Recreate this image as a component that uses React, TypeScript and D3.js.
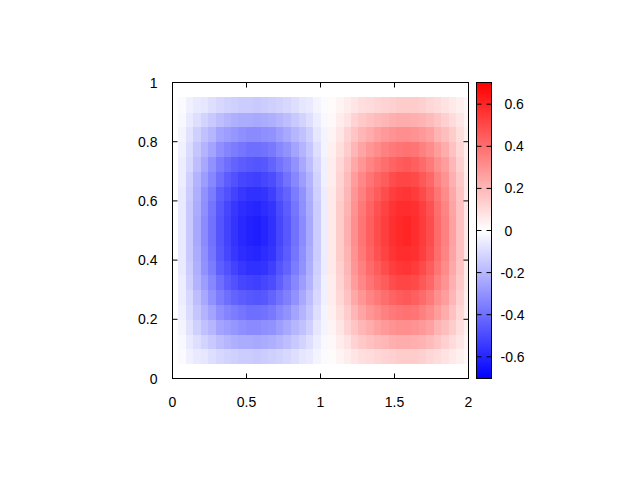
import React from "react";
import * as d3 from "d3";

// Grid coordinates of the heatmap cells (cell centres)
const xCenters = [
  0.065, 0.116, 0.167, 0.217, 0.268, 0.319, 0.37, 0.42, 0.471, 0.522,
  0.572, 0.623, 0.674, 0.724, 0.775, 0.826, 0.877, 0.927, 0.978, 1.029,
  1.079, 1.13, 1.181, 1.231, 1.282, 1.333, 1.384, 1.434, 1.485, 1.536,
  1.586, 1.637, 1.688, 1.738, 1.789, 1.84, 1.891, 1.941, 1.992,
];
const yCenters = [
  0.075, 0.125, 0.175, 0.225, 0.275, 0.325, 0.375, 0.425, 0.475,
  0.525, 0.575, 0.625, 0.675, 0.725, 0.775, 0.825, 0.875, 0.925,
];

// Cell values, one named row per y level (outer rows first)
const zRowA = [-0.01, -0.04, -0.06, -0.07, -0.09, -0.11, -0.12, -0.13, -0.14, -0.14, -0.15, -0.14, -0.13, -0.12, -0.11, -0.09, -0.07, -0.06, -0.03, -0.01, 0.01, 0.03, 0.05, 0.07, 0.09, 0.1, 0.11, 0.12, 0.13, 0.14, 0.14, 0.14, 0.13, 0.11, 0.1, 0.08, 0.06, 0.04, 0.02];
const zRowB = [-0.02, -0.06, -0.09, -0.12, -0.15, -0.18, -0.2, -0.22, -0.23, -0.23, -0.24, -0.23, -0.22, -0.2, -0.18, -0.15, -0.12, -0.09, -0.05, -0.02, 0.02, 0.05, 0.08, 0.12, 0.15, 0.17, 0.19, 0.2, 0.22, 0.23, 0.23, 0.22, 0.21, 0.19, 0.16, 0.13, 0.1, 0.07, 0.03];
const zRowC = [-0.03, -0.08, -0.13, -0.17, -0.2, -0.25, -0.27, -0.29, -0.31, -0.32, -0.32, -0.31, -0.3, -0.27, -0.24, -0.2, -0.17, -0.13, -0.07, -0.03, 0.03, 0.07, 0.12, 0.16, 0.2, 0.23, 0.26, 0.28, 0.3, 0.31, 0.31, 0.3, 0.28, 0.26, 0.21, 0.18, 0.14, 0.09, 0.04];
const zRowD = [-0.04, -0.1, -0.16, -0.21, -0.25, -0.31, -0.34, -0.36, -0.38, -0.4, -0.4, -0.39, -0.37, -0.33, -0.3, -0.25, -0.21, -0.16, -0.09, -0.03, 0.04, 0.09, 0.14, 0.2, 0.25, 0.29, 0.32, 0.35, 0.37, 0.38, 0.39, 0.38, 0.35, 0.32, 0.27, 0.23, 0.17, 0.11, 0.05];
const zRowE = [-0.05, -0.11, -0.18, -0.24, -0.3, -0.36, -0.4, -0.43, -0.45, -0.46, -0.47, -0.46, -0.43, -0.39, -0.35, -0.3, -0.24, -0.18, -0.11, -0.04, 0.05, 0.11, 0.17, 0.24, 0.29, 0.34, 0.37, 0.4, 0.43, 0.45, 0.46, 0.44, 0.41, 0.37, 0.31, 0.27, 0.2, 0.13, 0.05];
const zRowF = [-0.05, -0.13, -0.21, -0.27, -0.33, -0.4, -0.45, -0.48, -0.51, -0.52, -0.53, -0.51, -0.49, -0.44, -0.39, -0.33, -0.27, -0.21, -0.12, -0.04, 0.05, 0.12, 0.19, 0.27, 0.33, 0.38, 0.42, 0.45, 0.49, 0.51, 0.51, 0.5, 0.46, 0.42, 0.35, 0.3, 0.22, 0.15, 0.06];
const zRowG = [-0.06, -0.14, -0.22, -0.3, -0.36, -0.44, -0.48, -0.52, -0.55, -0.57, -0.57, -0.56, -0.53, -0.47, -0.43, -0.36, -0.3, -0.22, -0.13, -0.05, 0.06, 0.13, 0.2, 0.29, 0.35, 0.41, 0.45, 0.49, 0.53, 0.55, 0.56, 0.54, 0.5, 0.45, 0.38, 0.32, 0.24, 0.16, 0.06];
const zRowH = [-0.06, -0.15, -0.23, -0.31, -0.38, -0.46, -0.51, -0.55, -0.58, -0.59, -0.6, -0.58, -0.56, -0.5, -0.45, -0.38, -0.31, -0.23, -0.14, -0.05, 0.06, 0.14, 0.21, 0.3, 0.37, 0.43, 0.48, 0.52, 0.56, 0.58, 0.58, 0.57, 0.53, 0.48, 0.4, 0.34, 0.25, 0.17, 0.07];
const zRowI = [-0.06, -0.15, -0.24, -0.32, -0.39, -0.47, -0.52, -0.56, -0.59, -0.61, -0.62, -0.6, -0.57, -0.51, -0.46, -0.39, -0.32, -0.24, -0.14, -0.05, 0.06, 0.14, 0.22, 0.31, 0.38, 0.44, 0.49, 0.53, 0.57, 0.59, 0.6, 0.58, 0.54, 0.49, 0.41, 0.35, 0.26, 0.17, 0.07];

// rows listed bottom (y=0.075) to top (y=0.925)
const zRows = [zRowA, zRowB, zRowC, zRowD, zRowE, zRowF, zRowG, zRowH, zRowI, zRowI, zRowH, zRowG, zRowF, zRowE, zRowD, zRowC, zRowB, zRowA];

const xTicks = [0, 0.5, 1, 1.5, 2];
const xTickLabels = ["0", "0.5", "1", "1.5", "2"];
const yTicks = [0, 0.2, 0.4, 0.6, 0.8, 1];
const yTickLabels = ["0", "0.2", "0.4", "0.6", "0.8", "1"];
const cbTicks = [-0.6, -0.4, -0.2, 0, 0.2, 0.4, 0.6];
const cbTickLabels = ["-0.6", "-0.4", "-0.2", " 0", " 0.2", " 0.4", " 0.6"];
const cbDomain = [-0.703, 0.703];

export default function App() {
  const W = 640;
  const H = 480;
  const left = 172.5, right = 468.5, top = 82.5, bottom = 378.5;
  const cbLeft = 476.5, cbRight = 491.5;
  const tick = 5;
  const font = "'Liberation Sans', Arial, Helvetica, sans-serif";

  const x = d3.scaleLinear().domain([0, 2]).range([left, right]);
  const y = d3.scaleLinear().domain([0, 1]).range([bottom, top]);
  const cb = d3.scaleLinear().domain(cbDomain).range([bottom, top]);
  const color = d3
    .scaleLinear<string>()
    .domain([cbDomain[0], 0, cbDomain[1]])
    .range(["#0000ff", "#ffffff", "#ff0000"])
    .interpolate(d3.interpolateRgb)
    .clamp(true);

  const dx = (xCenters[xCenters.length - 1] - xCenters[0]) / (xCenters.length - 1);
  const dy = (yCenters[yCenters.length - 1] - yCenters[0]) / (yCenters.length - 1);

  const cells: React.ReactNode[] = [];
  yCenters.forEach((yc, j) => {
    xCenters.forEach((xc, i) => {
      const x0 = x(xc - dx / 2);
      const x1 = x(xc + dx / 2);
      const y0 = y(yc + dy / 2);
      const y1 = y(yc - dy / 2);
      cells.push(
        <rect
          key={`${i}-${j}`}
          x={x0}
          y={y0}
          width={x1 - x0 + 0.4}
          height={y1 - y0 + 0.4}
          fill={color(zRows[j][i])}
          shapeRendering="crispEdges"
        />
      );
    });
  });

  const gradStops = d3.range(0, 1.0001, 0.05).map((t) => {
    const v = cbDomain[0] + t * (cbDomain[1] - cbDomain[0]);
    return { offset: t, color: color(v) };
  });

  return (
    <svg
      width={W}
      height={H}
      style={{ position: "absolute", left: 0, top: 0, background: "#fff" }}
      fontFamily={font}
      fontSize={14}
    >
      <defs>
        <clipPath id="plotClip">
          <rect x={left} y={top} width={right - left} height={bottom - top} />
        </clipPath>
        <linearGradient id="cbGrad" x1="0" y1="1" x2="0" y2="0">
          {gradStops.map((s, i) => (
            <stop key={i} offset={s.offset} stopColor={s.color} />
          ))}
        </linearGradient>
      </defs>
      <rect width={W} height={H} fill="#fff" />
      <g clipPath="url(#plotClip)">{cells}</g>

      {/* plot border */}
      <rect x={left} y={top} width={right - left} height={bottom - top} fill="none" stroke="#000" strokeWidth={1} />

      {/* x ticks */}
      {xTicks.map((t, i) => (
        <g key={`xt${i}`}>
          <line x1={x(t)} x2={x(t)} y1={bottom} y2={bottom - tick} stroke="#000" />
          <line x1={x(t)} x2={x(t)} y1={top} y2={top + tick} stroke="#000" />
          <text x={x(t)} y={bottom + 28} textAnchor="middle" fill="#000">
            {xTickLabels[i]}
          </text>
        </g>
      ))}

      {/* y ticks */}
      {yTicks.map((t, i) => (
        <g key={`yt${i}`}>
          <line x1={left} x2={left + tick} y1={y(t)} y2={y(t)} stroke="#000" />
          <line x1={right} x2={right - tick} y1={y(t)} y2={y(t)} stroke="#000" />
          <text x={157.5} y={y(t) + 5} textAnchor="end" fill="#000">
            {yTickLabels[i]}
          </text>
        </g>
      ))}

      {/* colour box */}
      <rect x={cbLeft} y={top} width={cbRight - cbLeft} height={bottom - top} fill="url(#cbGrad)" />
      <rect x={cbLeft} y={top} width={cbRight - cbLeft} height={bottom - top} fill="none" stroke="#000" strokeWidth={1} />
      {cbTicks.map((t, i) => (
        <g key={`cb${i}`}>
          <line x1={cbLeft} x2={cbLeft + tick} y1={cb(t)} y2={cb(t)} stroke="#000" />
          <line x1={cbRight} x2={cbRight - tick} y1={cb(t)} y2={cb(t)} stroke="#000" />
          <text x={500.5} y={cb(t) + 5} textAnchor="start" fill="#000" style={{ whiteSpace: "pre" }}>
            {cbTickLabels[i]}
          </text>
        </g>
      ))}
    </svg>
  );
}
